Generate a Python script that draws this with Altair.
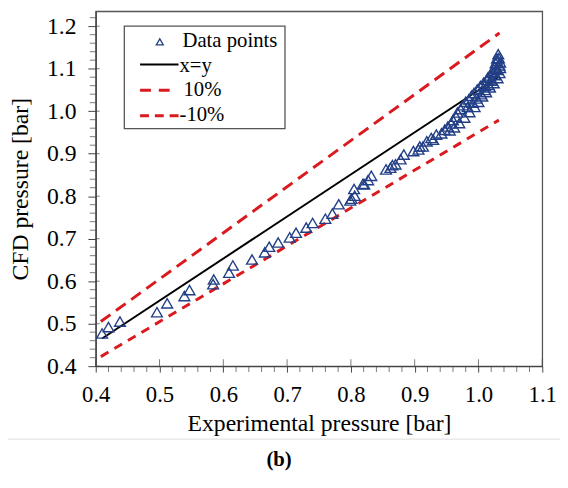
import altair as alt
import pandas as pd

# ---- data ----
exp_pressure = [0.410, 0.420, 0.438, 0.496, 0.512, 0.539, 0.547, 0.584, 0.585, 0.609,
                0.615, 0.645, 0.665, 0.672, 0.686, 0.704, 0.714, 0.730, 0.740, 0.760,
                0.771, 0.781, 0.799, 0.806, 0.805, 0.821, 0.832, 0.855, 0.865, 0.878,
                0.883, 0.898, 0.908, 0.919, 0.926, 0.934, 0.801, 0.819, 0.827, 0.862,
                0.870, 0.906, 0.913, 0.929, 0.942, 0.947, 0.952, 0.957, 0.960, 0.965,
                0.967, 0.972, 0.976, 0.980, 0.985, 0.989, 0.993, 0.998, 1.003, 1.008,
                1.013, 1.018, 1.022, 1.025, 1.027, 1.029, 1.031, 0.955, 0.962, 0.970,
                0.978, 0.986, 0.994, 1.000, 1.006, 1.012, 1.018, 1.024, 1.030, 1.033,
                1.034, 1.034, 1.032, 1.028, 1.020, 1.010, 0.983, 0.991, 0.997, 1.004,
                1.010, 1.016, 1.021, 1.026, 1.030, 1.033, 1.015, 1.023, 1.029]
cfd_pressure = [0.477, 0.492, 0.505, 0.527, 0.548, 0.565, 0.579, 0.593, 0.604, 0.620,
                0.637, 0.651, 0.668, 0.681, 0.691, 0.703, 0.714, 0.726, 0.737, 0.747,
                0.759, 0.781, 0.790, 0.801, 0.817, 0.828, 0.848, 0.863, 0.873, 0.887,
                0.898, 0.906, 0.917, 0.929, 0.937, 0.945, 0.794, 0.829, 0.838, 0.867,
                0.875, 0.910, 0.917, 0.933, 0.948, 0.956, 0.964, 0.971, 0.979, 0.987,
                0.997, 1.005, 1.014, 1.022, 1.028, 1.036, 1.043, 1.051, 1.059, 1.067,
                1.074, 1.084, 1.093, 1.103, 1.113, 1.124, 1.134, 0.955, 0.962, 0.972,
                0.985, 0.998, 1.010, 1.022, 1.035, 1.045, 1.056, 1.066, 1.078, 1.090,
                1.102, 1.115, 1.125, 1.100, 1.075, 1.060, 1.010, 1.020, 1.030, 1.040,
                1.050, 1.062, 1.072, 1.085, 1.097, 1.108, 1.080, 1.090, 1.118]

xy_line_x = [0.410, 1.032]
xy_line_y = [0.465, 1.081]
plus10_x = [0.408, 1.033]
plus10_y = [0.505, 1.184]
minus10_x = [0.408, 1.032]
minus10_y = [0.4225, 0.979]

x_major = [0.4, 0.5, 0.6, 0.7, 0.8, 0.9, 1.0, 1.1]
y_major = [0.4, 0.5, 0.6, 0.7, 0.8, 0.9, 1.0, 1.1, 1.2]
x_minor = [round(0.4 + 0.02 * i, 2) for i in range(36) if i % 5 != 0]
y_minor = [round(0.4 + 0.02 * i, 2) for i in range(42) if i % 5 != 0]

legend_labels = ["Data points", "x=y", "10%", "-10%"]
x_title = "Experimental pressure [bar]"
y_title = "CFD pressure [bar]"
caption = "(b)"

# ---- layout ----
W, H = 453, 360
FONT = "Liberation Serif"
AX = "#444444"
RED = "#DA1A1F"
BLUE = "#223F86"

xs = alt.Scale(domain=[0.4, 1.1], nice=False, zero=False)
ys = alt.Scale(domain=[0.4, 1.235], nice=False, zero=False)
x_axis = alt.Axis(values=x_major, format=".1f", title=x_title, tickSize=6,
                  labelPadding=12, titlePadding=5, labelFlush=False,
                  labelFontSize=23, titleFontSize=24)
y_axis = alt.Axis(values=y_major, format=".1f", title=y_title, tickSize=8,
                  labelPadding=12, titlePadding=14, labelFlush=False,
                  labelFontSize=24, titleFontSize=24)
X = alt.X("x:Q", scale=xs, axis=x_axis)
Y = alt.Y("y:Q", scale=ys, axis=y_axis)

pts = pd.DataFrame({"x": exp_pressure, "y": cfd_pressure})
xy_df = pd.DataFrame({"x": xy_line_x, "y": xy_line_y})
up_df = pd.DataFrame({"x": plus10_x, "y": plus10_y})
lo_df = pd.DataFrame({"x": minus10_x, "y": minus10_y})
one = pd.DataFrame({"a": [0]})

xy_line = alt.Chart(xy_df).mark_line(color="black", strokeWidth=2).encode(x=X, y=Y)
up_line = alt.Chart(up_df).mark_line(color=RED, strokeWidth=3, strokeDash=[12, 7]).encode(x=X, y=Y)
lo_line = alt.Chart(lo_df).mark_line(color=RED, strokeWidth=3, strokeDash=[9, 7]).encode(x=X, y=Y)
points = alt.Chart(pts).mark_point(shape="triangle-up", filled=False, size=120,
                                   color=BLUE, strokeWidth=1.4, opacity=1).encode(x=X, y=Y)

# extra ticks (minor ticks outward, inner halves of major ticks)
xmin_t = alt.Chart(pd.DataFrame({"x": x_minor})).mark_tick(
    orient="vertical", size=6, thickness=1, color=AX).encode(x=X, y=alt.value(H + 3))
xmaj_t = alt.Chart(pd.DataFrame({"x": x_major})).mark_tick(
    orient="vertical", size=7, thickness=1, color=AX).encode(x=X, y=alt.value(H - 3.5))
ymin_t = alt.Chart(pd.DataFrame({"y": y_minor})).mark_tick(
    orient="horizontal", size=6, thickness=1, color=AX).encode(y=Y, x=alt.value(-3))
ymaj_t = alt.Chart(pd.DataFrame({"y": y_major})).mark_tick(
    orient="horizontal", size=4, thickness=1, color=AX).encode(y=Y, x=alt.value(2))

# legend
leg_box = alt.Chart(one).mark_rect(fill="white", stroke="#555555", strokeWidth=1.3).encode(
    x=alt.value(29), x2=alt.value(192), y=alt.value(15), y2=alt.value(119))
leg_tri = alt.Chart(one).mark_point(shape="triangle-up", filled=False, size=50,
                                    color=BLUE, strokeWidth=1.3, opacity=1).encode(
    x=alt.value(65), y=alt.value(31))
leg_xy = alt.Chart(one).mark_rule(color="black", strokeWidth=2).encode(
    x=alt.value(45), x2=alt.value(84), y=alt.value(54))
leg_up = alt.Chart(one).mark_rule(color=RED, strokeWidth=3, strokeDash=[11, 8]).encode(
    x=alt.value(45), x2=alt.value(75), y=alt.value(80))
leg_lo = alt.Chart(one).mark_rule(color=RED, strokeWidth=3, strokeDash=[9, 6]).encode(
    x=alt.value(45), x2=alt.value(84), y=alt.value(106))
leg_texts = []
for lab, yy, xx in zip(legend_labels, [30, 56, 80, 105], [88, 85, 89, 85]):
    leg_texts.append(alt.Chart(one).mark_text(
        text=lab, font=FONT, fontSize=21, align="left", baseline="middle", color="black").encode(
        x=alt.value(xx), y=alt.value(yy)))

sep = alt.Chart(one).mark_rule(color="#dddddd", strokeWidth=1).encode(
    x=alt.value(-89), x2=alt.value(W + 18), y=alt.value(434))
cap = alt.Chart(one).mark_text(text=caption, font=FONT, fontSize=21, fontWeight="bold",
                               align="center", baseline="middle", color="black").encode(
    x=alt.value(186), y=alt.value(455))

chart = alt.layer(
    leg_box, xy_line, up_line, lo_line, points,
    xmin_t, xmaj_t, ymin_t, ymaj_t,
    leg_tri, leg_xy, leg_up, leg_lo, *leg_texts, sep, cap
).properties(
    width=W, height=H,
    autosize=alt.AutoSizeParams(type="none"),
    padding={"left": 89, "top": 0, "right": 18, "bottom": 104},
).configure_view(
    stroke="#555555", strokeWidth=1.3
).configure_axis(
    grid=False, domainColor=AX, tickColor=AX, domainWidth=1.3, tickWidth=1,
    labelFont=FONT, labelColor="black",
    titleFont=FONT, titleFontWeight="normal", titleColor="black",
)

chart.save("out.html", embed_options={"renderer": "svg", "actions": False})
